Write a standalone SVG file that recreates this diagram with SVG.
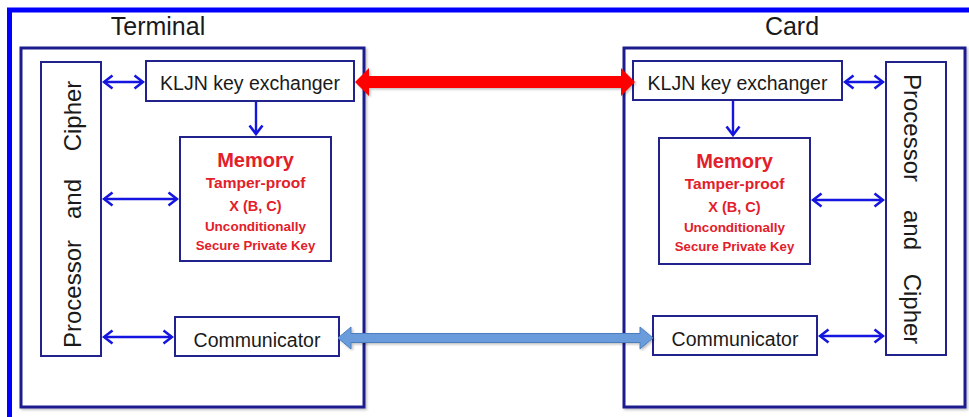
<svg xmlns="http://www.w3.org/2000/svg" width="969" height="417" viewBox="0 0 969 417">
  <defs>
    <style>
      .frame { fill: none; stroke: #0000ff; stroke-width: 5; }
      .outer { fill: #ffffff; stroke: #1f1f8f; stroke-width: 3; }
      .box { fill: #ffffff; stroke: #22228c; stroke-width: 2; }
      .title { font-family: "Liberation Sans", Arial, sans-serif; font-size: 25px; fill: #1a1a1a; text-anchor: middle; }
      .label { font-family: "Liberation Sans", Arial, sans-serif; font-size: 19.5px; fill: #1a1a1a; text-anchor: middle; }
      .proc { font-family: "Liberation Sans", Arial, sans-serif; font-size: 24px; fill: #1a1a1a; text-anchor: middle; }
      .mem { font-family: "Liberation Sans", Arial, sans-serif; font-weight: bold; fill: #e3202a; text-anchor: middle; }
      .link { fill: none; stroke: #1515e0; stroke-width: 2.4; }
    </style>
    <marker id="head" viewBox="-11 -9 13 18" refX="0" refY="0" markerWidth="13" markerHeight="18" markerUnits="userSpaceOnUse" orient="auto-start-reverse">
      <path d="M-8.5,-6.5 L0,0 L-8.5,6.5" fill="none" stroke="#1515e0" stroke-width="2.6" stroke-linejoin="miter"/>
    </marker>
    <filter id="shadow" x="-5%" y="-5%" width="110%" height="110%">
      <feDropShadow dx="1.5" dy="1.5" stdDeviation="1.2" flood-color="#000000" flood-opacity="0.25"/>
    </filter>
  </defs>

  <rect width="969" height="417" fill="#ffffff"/>

  <!-- page frame: left and top edges only, the rest runs off the canvas -->
  <rect class="frame" x="9.5" y="10" width="990" height="440"/>

  <!-- Terminal side -->
  <g id="terminal">
    <rect class="outer" x="21" y="48" width="343" height="359" filter="url(#shadow)"/>
    <text class="title" x="158" y="35">Terminal</text>
  </g>
  <g id="terminal-processor">
    <rect class="box" x="41" y="62" width="60" height="294"/>
    <text class="proc" transform="translate(81,294) rotate(-90)">Processor</text>
    <text class="proc" transform="translate(81,199) rotate(-90)">and</text>
    <text class="proc" transform="translate(81,116) rotate(-90)">Cipher</text>
  </g>
  <g id="terminal-kljn">
    <rect class="box" x="146" y="61" width="208" height="40"/>
    <text class="label" x="250" y="90">KLJN key exchanger</text>
  </g>
  <g id="terminal-memory">
    <rect class="box" x="180" y="137" width="151" height="124"/>
    <text class="mem" x="255.5" y="167" font-size="20">Memory</text>
    <text class="mem" x="255.5" y="188" font-size="15.5">Tamper-proof</text>
    <text class="mem" x="255.5" y="211" font-size="14.5">X (B, C)</text>
    <text class="mem" x="255.5" y="231" font-size="13.5">Unconditionally</text>
    <text class="mem" x="255.5" y="250" font-size="13.2">Secure Private Key</text>
  </g>
  <g id="terminal-communicator">
    <rect class="box" x="175" y="317" width="164" height="39"/>
    <text class="label" x="257" y="347" font-size="20.5">Communicator</text>
  </g>

  <!-- Card side -->
  <g id="card">
    <rect class="outer" x="624" y="48" width="341" height="359" filter="url(#shadow)"/>
    <text class="title" x="792" y="35">Card</text>
  </g>
  <g id="card-processor">
    <rect class="box" x="886" y="62" width="60" height="293"/>
    <text class="proc" transform="translate(904,128) rotate(90)">Processor</text>
    <text class="proc" transform="translate(904,230) rotate(90)">and</text>
    <text class="proc" transform="translate(904,309) rotate(90)">Cipher</text>
  </g>
  <g id="card-kljn">
    <rect class="box" x="633" y="61" width="209" height="39"/>
    <text class="label" x="737.5" y="90">KLJN key exchanger</text>
  </g>
  <g id="card-memory">
    <rect class="box" x="659" y="138" width="151" height="126"/>
    <text class="mem" x="734.5" y="168" font-size="20">Memory</text>
    <text class="mem" x="734.5" y="189" font-size="15.5">Tamper-proof</text>
    <text class="mem" x="734.5" y="212" font-size="14.5">X (B, C)</text>
    <text class="mem" x="734.5" y="232" font-size="13.5">Unconditionally</text>
    <text class="mem" x="734.5" y="251" font-size="13.2">Secure Private Key</text>
  </g>
  <g id="card-communicator">
    <rect class="box" x="653" y="316" width="164" height="39"/>
    <text class="label" x="735" y="346" font-size="20.5">Communicator</text>
  </g>

  <!-- connectors -->
  <g id="connectors">
    <!-- terminal internals -->
    <line class="link" x1="104" y1="82" x2="143" y2="82" marker-start="url(#head)" marker-end="url(#head)"/>
    <line class="link" x1="256" y1="102" x2="256" y2="134" marker-end="url(#head)"/>
    <line class="link" x1="104" y1="199" x2="177" y2="199" marker-start="url(#head)" marker-end="url(#head)"/>
    <line class="link" x1="104" y1="337" x2="172" y2="337" marker-start="url(#head)" marker-end="url(#head)"/>
    <!-- card internals -->
    <line class="link" x1="845" y1="82" x2="883" y2="82" marker-start="url(#head)" marker-end="url(#head)"/>
    <line class="link" x1="733" y1="101" x2="733" y2="135" marker-end="url(#head)"/>
    <line class="link" x1="813" y1="200" x2="883" y2="200" marker-start="url(#head)" marker-end="url(#head)"/>
    <line class="link" x1="820" y1="336" x2="883" y2="336" marker-start="url(#head)" marker-end="url(#head)"/>
    <!-- key exchange channel -->
    <polygon points="355,82 369,68 369,76 621,76 621,68 635,82 621,96 621,88 369,88 369,96" fill="#ff0000" filter="url(#shadow)"/>
    <!-- data channel -->
    <polygon points="338,338 351,327 351,333.5 640,333.5 640,327 653,338 640,349 640,342.5 351,342.5 351,349" fill="#6b9cdc" stroke="#4a7ec0" stroke-width="1" filter="url(#shadow)"/>
  </g>
</svg>
